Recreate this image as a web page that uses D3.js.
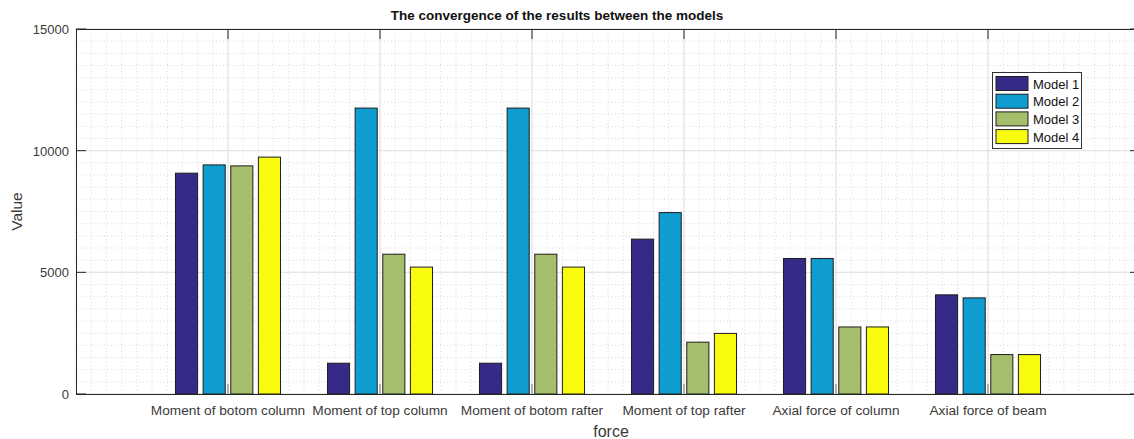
<!DOCTYPE html>
<html>
<head>
<meta charset="utf-8">
<script src="https://cdn.jsdelivr.net/npm/d3@7"></script>
<style>
  body { margin: 0; background: #fff; }
  svg { display: block; font-family: "Liberation Sans", Arial, sans-serif; }
</style>
</head>
<body>
<div id="chart"></div>
<script>
// chart data
const categories = ["Moment of botom column", "Moment of top column", "Moment of botom rafter",
                    "Moment of top rafter", "Axial force of column", "Axial force of beam"];
const models = ["Model 1", "Model 2", "Model 3", "Model 4"];
const model1 = [9075, 1265, 1265, 6365, 5570, 4075];
const model2 = [9415, 11750, 11750, 7455, 5570, 3950];
const model3 = [9375, 5745, 5745, 2130, 2755, 1620];
const model4 = [9735, 5215, 5215, 2490, 2755, 1620];
const yTicks = [0, 5000, 10000, 15000];
const colors = ["#352a87", "#0f9ccf", "#a5be6b", "#f9fb0e"];

const series = [model1, model2, model3, model4];

const width = 1134, height = 439;
const plotLeft = 76, plotRight = 1140, plotTop = 29, plotBottom = 394;

const svg = d3.select("#chart").append("svg")
  .attr("width", width)
  .attr("height", height);

const x = d3.scaleLinear().domain([0, categories.length + 1]).range([plotLeft, plotRight]);
const y = d3.scaleLinear().domain([0, 15000]).range([plotBottom, plotTop]);

// matlab style grouped bars: group width and per-series offset (in category units)
const groupW = Math.min(0.8, models.length / (models.length + 1.5));
const xs = d3.scaleBand().domain(models).range([-groupW / 2, groupW / 2]);
const barW = xs.bandwidth() * 0.8;

// minor grid
const g = svg.append("g");
const xMinor = d3.range(0, categories.length + 1 + 1e-9, 0.1);
const yMinor = d3.range(0, 15001, 500);
g.selectAll(".xminor").data(xMinor).join("line")
  .attr("x1", d => x(d)).attr("x2", d => x(d))
  .attr("y1", plotTop).attr("y2", plotBottom)
  .attr("stroke", "#cfcfcf").attr("stroke-width", 0.8)
  .attr("stroke-dasharray", "1,2.5");
g.selectAll(".yminor").data(yMinor).join("line")
  .attr("x1", plotLeft).attr("x2", plotRight)
  .attr("y1", d => y(d)).attr("y2", d => y(d))
  .attr("stroke", "#cfcfcf").attr("stroke-width", 0.8)
  .attr("stroke-dasharray", "1,2.5");

// major grid
svg.append("g").selectAll("line").data(d3.range(1, categories.length + 1)).join("line")
  .attr("x1", d => x(d)).attr("x2", d => x(d))
  .attr("y1", plotTop).attr("y2", plotBottom)
  .attr("stroke", "#e0e0e0").attr("stroke-width", 1);
svg.append("g").selectAll("line").data(yTicks).join("line")
  .attr("x1", plotLeft).attr("x2", plotRight)
  .attr("y1", d => y(d)).attr("y2", d => y(d))
  .attr("stroke", "#e0e0e0").attr("stroke-width", 1);

// bars
series.forEach(function (vals, si) {
  svg.append("g").selectAll("rect")
    .data(vals)
    .join("rect")
    .attr("x", (d, i) => x(i + 1 + xs(models[si]) + xs.bandwidth() / 2 - barW / 2))
    .attr("width", x(barW) - x(0))
    .attr("y", d => y(d))
    .attr("height", d => y(0) - y(d))
    .attr("fill", colors[si])
    .attr("stroke", "#1e1e1e")
    .attr("stroke-width", 1);
});

// axes box and ticks
const axisColor = "#262626";
svg.append("rect")
  .attr("x", plotLeft + 0.5).attr("y", plotTop + 0.5)
  .attr("width", plotRight - plotLeft).attr("height", plotBottom - plotTop)
  .attr("fill", "none").attr("stroke", axisColor).attr("stroke-width", 1);

const catIdx = d3.range(1, categories.length + 1);
svg.append("g").selectAll("line").data(catIdx).join("line")
  .attr("x1", d => x(d)).attr("x2", d => x(d))
  .attr("y1", plotTop).attr("y2", plotTop + 10)
  .attr("stroke", axisColor);
svg.append("g").selectAll("line").data(catIdx).join("line")
  .attr("x1", d => x(d)).attr("x2", d => x(d))
  .attr("y1", plotBottom).attr("y2", plotBottom - 10)
  .attr("stroke", "#777");
svg.append("g").selectAll("line").data(yTicks).join("line")
  .attr("x1", plotLeft).attr("x2", plotLeft + 10)
  .attr("y1", d => y(d)).attr("y2", d => y(d))
  .attr("stroke", axisColor);
svg.append("g").selectAll("line").data(yTicks).join("line")
  .attr("x1", plotRight).attr("x2", plotRight - 10)
  .attr("y1", d => y(d)).attr("y2", d => y(d))
  .attr("stroke", axisColor);

// tick labels
svg.append("g").selectAll("text").data(yTicks).join("text")
  .attr("x", plotLeft - 7)
  .attr("y", d => y(d) + 5)
  .attr("text-anchor", "end")
  .attr("font-size", 13)
  .attr("fill", "#3a3a3a")
  .text(d => d);

svg.append("g").selectAll("text").data(categories).join("text")
  .attr("x", (d, i) => x(i + 1))
  .attr("y", 415)
  .attr("text-anchor", "middle")
  .attr("font-size", 13.7)
  .attr("fill", "#3a3a3a")
  .text(d => d);

// labels
svg.append("text")
  .attr("x", 557).attr("y", 20)
  .attr("text-anchor", "middle")
  .attr("font-size", 13.5)
  .attr("font-weight", "bold")
  .attr("fill", "#111")
  .text("The convergence of the results between the models");

svg.append("text")
  .attr("x", 611).attr("y", 437)
  .attr("text-anchor", "middle")
  .attr("font-size", 16)
  .attr("fill", "#3a3a3a")
  .text("force");

svg.append("text")
  .attr("transform", "translate(22," + ((plotTop + plotBottom) / 2) + ") rotate(-90)")
  .attr("text-anchor", "middle")
  .attr("font-size", 15.5)
  .attr("fill", "#3a3a3a")
  .text("Value");

// legend
const lg = svg.append("g").attr("transform", "translate(992,72)");
lg.append("rect")
  .attr("x", 0.5).attr("y", 0.5)
  .attr("width", 89).attr("height", 76)
  .attr("fill", "#fff").attr("stroke", "#333");
const item = lg.selectAll(".legend").data(models).join("g")
  .attr("class", "legend")
  .attr("transform", (d, i) => "translate(4," + (4.5 + i * 17.7) + ")");
item.append("rect")
  .attr("width", 32).attr("height", 14)
  .attr("fill", (d, i) => colors[i])
  .attr("stroke", "#1e1e1e");
item.append("text")
  .attr("x", 37).attr("y", 12)
  .attr("font-size", 13)
  .attr("fill", "#111")
  .text(d => d);
</script>
</body>
</html>
